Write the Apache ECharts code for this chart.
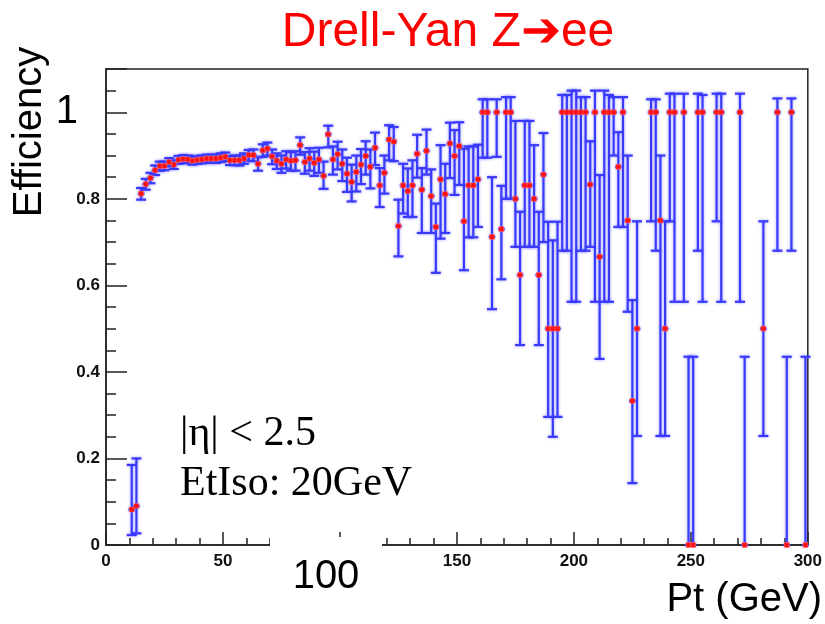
<!DOCTYPE html>
<html>
<head>
<meta charset="utf-8">
<script src="https://cdn.jsdelivr.net/npm/echarts@6/dist/echarts.min.js"></script>
<style>
  html, body { margin: 0; padding: 0; background: #fff; }
  #chart { width: 825px; height: 624px; }
</style>
</head>
<body>
<div id="chart"></div>
<script>
// bin centres (GeV)
var ptBins = [11, 13, 15, 17, 19, 21, 23, 25, 27, 29, 31, 33, 35, 37, 39, 41, 43, 45, 47, 49,
    51, 53, 55, 57, 59, 61, 63, 65, 67, 69, 71, 73, 75, 77, 79, 81, 83, 85, 87, 89,
    91, 93, 95, 97, 99, 101, 103, 105, 107, 109, 111, 113, 115, 117, 119, 121, 123, 125, 127, 129,
    131, 133, 135, 137, 139, 141, 143, 145, 147, 149, 151, 153, 155, 157, 159, 161, 163, 165, 167, 169,
    171, 173, 175, 177, 179, 181, 183, 185, 187, 189, 191, 193, 195, 197, 199, 201, 203, 205, 207, 209,
    211, 213, 215, 217, 219, 221, 223, 225, 227, 233, 235, 237, 239, 241, 243, 247, 249, 251, 253, 255,
    261, 263, 271, 273, 281, 287, 291, 293, 299];

var efficiency = [0.082, 0.09, 0.812, 0.834, 0.848, 0.866, 0.876, 0.876, 0.885, 0.879, 0.890, 0.892, 0.891, 0.888, 0.890, 0.891, 0.893, 0.893, 0.893, 0.895,
    0.897, 0.889, 0.889, 0.889, 0.893, 0.901, 0.901, 0.881, 0.912, 0.916, 0.898, 0.888, 0.881, 0.891, 0.888, 0.889, 0.924, 0.885, 0.893, 0.883,
    0.891, 0.853, 0.949, 0.891, 0.903, 0.881, 0.858, 0.839, 0.862, 0.879, 0.899, 0.874, 0.918, 0.831, 0.860, 0.937, 0.932, 0.737, 0.831, 0.818,
    0.831, 0.904, 0.821, 0.911, 0.806, 0.735, 0.845, 0.811, 0.928, 0.899, 0.922, 0.748, 0.831, 0.831, 0.845, 1, 1, 0.712, 1, 0.730,
    1, 1, 0.8, 0.624, 0.831, 0.831, 0.8, 0.624, 0.856, 0.5, 0.5, 0.5, 1, 1, 1, 1, 1, 1, 0.833, 1,
    0.666, 1, 1, 1, 0.874, 1, 0.75, 0.333, 0.5, 1, 1, 0.75, 0.5, 1, 1, 1, 0, 0, 1, 1,
    1, 1, 1, 0, 0.5, 1, 0, 1, 0];

var errLow = [0.059, 0.063, 0.014, 0.013, 0.012, 0.011, 0.011, 0.010, 0.010, 0.010, 0.009, 0.009, 0.009, 0.009, 0.009, 0.009, 0.009, 0.010, 0.010, 0.010,
    0.010, 0.011, 0.011, 0.012, 0.012, 0.013, 0.014, 0.016, 0.015, 0.016, 0.018, 0.019, 0.021, 0.021, 0.023, 0.024, 0.022, 0.027, 0.028, 0.030,
    0.031, 0.030, 0.030, 0.035, 0.035, 0.040, 0.042, 0.045, 0.045, 0.045, 0.043, 0.050, 0.040, 0.050, 0.048, 0.048, 0.045, 0.070, 0.065, 0.060,
    0.073, 0.055, 0.100, 0.055, 0.085, 0.106, 0.137, 0.090, 0.080, 0.090, 0.090, 0.113, 0.120, 0.120, 0.110, 0.105, 0.105, 0.167, 0.103, 0.116,
    0.200, 0.200, 0.111, 0.162, 0.142, 0.142, 0.111, 0.162, 0.156, 0.204, 0.250, 0.204, 0.320, 0.320, 0.438, 0.438, 0.320, 0.320, 0.144, 0.438,
    0.236, 0.438, 0.438, 0.100, 0.139, 0.265, 0.211, 0.190, 0.248, 0.252, 0.320, 0.498, 0.248, 0.252, 0.438, 0.438, 0, 0, 0.320, 0.438,
    0.252, 0.438, 0.438, 0, 0.248, 0.320, 0, 0.320, 0];

var errHigh = [0.103, 0.110, 0.013, 0.012, 0.012, 0.011, 0.010, 0.010, 0.009, 0.010, 0.009, 0.009, 0.009, 0.009, 0.009, 0.009, 0.009, 0.009, 0.009, 0.010,
    0.010, 0.010, 0.011, 0.011, 0.012, 0.012, 0.013, 0.015, 0.014, 0.014, 0.016, 0.017, 0.019, 0.019, 0.020, 0.021, 0.018, 0.023, 0.024, 0.026,
    0.027, 0.033, 0.020, 0.030, 0.029, 0.033, 0.037, 0.040, 0.038, 0.036, 0.034, 0.040, 0.035, 0.040, 0.040, 0.033, 0.034, 0.061, 0.050, 0.052,
    0.058, 0.044, 0.050, 0.049, 0.062, 0.054, 0.079, 0.070, 0.048, 0.060, 0.055, 0.168, 0.090, 0.090, 0.080, 0.030, 0.030, 0.138, 0.030, 0.100,
    0.035, 0.035, 0.180, 0.146, 0.149, 0.149, 0.124, 0.146, 0.096, 0.247, 0.204, 0.247, 0.040, 0.040, 0.050, 0.050, 0.035, 0.035, 0.100, 0.050,
    0.189, 0.050, 0.040, 0.035, 0.080, 0.035, 0.150, 0.233, 0.248, 0.030, 0.030, 0.150, 0.248, 0.043, 0.043, 0.043, 0.435, 0.435, 0.043, 0.040,
    0.043, 0.043, 0.043, 0.435, 0.248, 0.032, 0.435, 0.032, 0.435];

var xTickLabels = ['0', '50', '100', '150', '200', '250', '300'];
var yTickLabels = ['0', '0.2', '0.4', '0.6', '0.8', '1'];

var chart = echarts.init(document.getElementById('chart'));

var barData = [];
var markerData = [];
for (var i = 0; i < ptBins.length; i++) {
    barData.push([ptBins[i], efficiency[i] - errLow[i], efficiency[i] + errHigh[i], efficiency[i]]);
    markerData.push([ptBins[i], efficiency[i]]);
}

var barColor = '#3a3aff';

function renderErr(params, api) {
    var x = api.value(0), lo = api.value(1), hi = api.value(2), v = api.value(3);
    var pLo = api.coord([x, lo]);
    var pHi = api.coord([x, hi]);
    var pL = api.coord([x - 1, v]);
    var pR = api.coord([x + 1, v]);
    var cap = 5;
    var style = { stroke: barColor, lineWidth: 2.2, shadowBlur: 3, shadowColor: 'rgba(60,60,255,0.5)' };
    var kids = [
        { type: 'line', shape: { x1: pLo[0], y1: pLo[1], x2: pHi[0], y2: pHi[1] }, style: style },
        { type: 'line', shape: { x1: pL[0] - 1, y1: pL[1], x2: pR[0] + 1, y2: pR[1] }, style: style }
    ];
    if (hi > v) kids.push({ type: 'line', shape: { x1: pHi[0] - cap, y1: pHi[1], x2: pHi[0] + cap, y2: pHi[1] }, style: style });
    if (lo < v) kids.push({ type: 'line', shape: { x1: pLo[0] - cap, y1: pLo[1], x2: pLo[0] + cap, y2: pLo[1] }, style: style });
    return { type: 'group', children: kids };
}

var smallFont = { fontFamily: 'Liberation Sans', fontWeight: 'bold', fontSize: 17, color: '#111' };

var option = {
    animation: false,
    backgroundColor: '#fff',
    grid: {
        left: 106, right: 17, top: 69, bottom: 79,
        show: true, borderColor: '#222', borderWidth: 1.5
    },
    xAxis: {
        type: 'value',
        min: 0, max: 300, interval: 50,
        axisLine: { show: true, lineStyle: { color: '#222', width: 1.5 } },
        axisTick: { show: true, inside: true, length: 13, lineStyle: { color: '#222', width: 1.5 } },
        minorTick: { show: true, splitNumber: 5, length: 7, lineStyle: { color: '#222', width: 1.5 } },
        splitLine: { show: false },
        axisLabel: {
            margin: 8,
            fontFamily: 'Liberation Sans', fontWeight: 'bold', fontSize: 17, color: '#111',
            formatter: function (v) {
                var s = xTickLabels[Math.round(v / 50)];
                return s === '100' ? '' : s;
            }
        }
    },
    yAxis: {
        type: 'value',
        min: 0, max: 1.1, interval: 0.2,
        axisLine: { show: true, lineStyle: { color: '#222', width: 1.5 } },
        axisTick: { show: true, inside: true, length: 21, lineStyle: { color: '#222', width: 1.5 } },
        minorTick: { show: true, splitNumber: 4, length: 10, lineStyle: { color: '#222', width: 1.5 } },
        splitLine: { show: false },
        axisLabel: {
            margin: 6,
            showMaxLabel: false,
            formatter: function (v) {
                var s = yTickLabels[Math.round(v / 0.2)];
                if (s === undefined) return '';
                return s === '1' ? '{big|' + s + '}' : '{s|' + s + '}';
            },
            rich: {
                s: smallFont,
                big: { fontFamily: 'Liberation Sans', fontSize: 40, color: '#000', padding: [0, 22, 0, 0] }
            }
        }
    },
    graphic: [
        {
            type: 'text', x: 448, y: 33, z: 100,
            style: {
                text: 'Drell-Yan Z\u2794ee', fill: '#ff0000',
                font: '48px "Liberation Sans"',
                align: 'center', verticalAlign: 'middle',
                shadowColor: 'rgba(0,0,0,0.35)', shadowOffsetX: 2, shadowOffsetY: 2, shadowBlur: 1
            }
        },
        {
            type: 'text', x: 30, y: 132, rotation: Math.PI / 2, z: 100,
            style: { text: 'Efficiency', fill: '#000', font: '40px "Liberation Sans"', align: 'center', verticalAlign: 'middle' }
        },
        {
            type: 'rect', z: 90,
            shape: { x: 270, y: 537, width: 112, height: 66 },
            style: { fill: '#fff' }
        },
        {
            type: 'text', x: 326, y: 577, z: 100,
            style: { text: xTickLabels[2], fill: '#000', font: '40px "Liberation Sans"', align: 'center', verticalAlign: 'middle',
                shadowColor: 'rgba(0,0,0,0.3)', shadowOffsetX: 1.5, shadowOffsetY: 1.5 }
        },
        {
            type: 'text', x: 822, y: 600, z: 100,
            style: { text: 'Pt (GeV)', fill: '#000', font: '40px "Liberation Sans"', align: 'right', verticalAlign: 'middle',
                shadowColor: 'rgba(0,0,0,0.3)', shadowOffsetX: 1.5, shadowOffsetY: 1.5 }
        },
        {
            type: 'text', x: 180, y: 434, z: 100,
            style: { text: '|\u03b7| < 2.5', fill: '#000', font: '42px "Liberation Serif"', align: 'left', verticalAlign: 'middle' }
        },
        {
            type: 'text', x: 180, y: 484, z: 100,
            style: { text: 'EtIso: 20GeV', fill: '#000', font: '42px "Liberation Serif"', align: 'left', verticalAlign: 'middle' }
        }
    ],
    series: [
        {
            type: 'custom',
            renderItem: renderErr,
            data: barData,
            encode: { x: 0, y: [1, 2] },
            z: 2
        },
        {
            type: 'scatter',
            data: markerData,
            symbol: 'rect',
            symbolSize: 5,
            itemStyle: { color: '#ff1010', borderColor: '#ff8080', borderWidth: 0.5, opacity: 1 },
            z: 3
        }
    ]
};

chart.setOption(option);
</script>
</body>
</html>
